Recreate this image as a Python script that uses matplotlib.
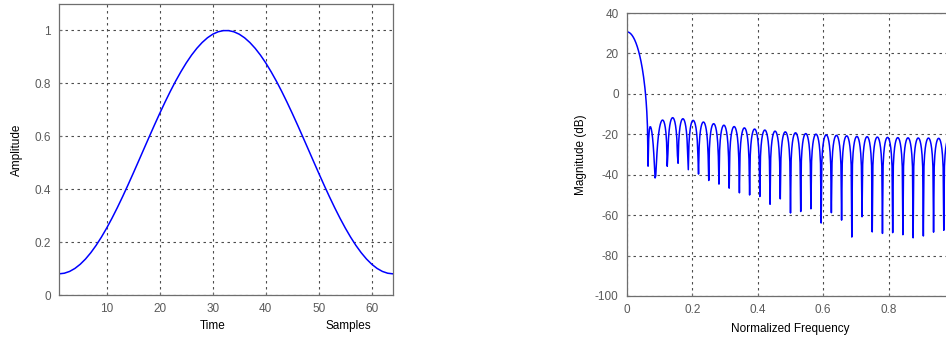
import numpy as np
import matplotlib
matplotlib.use("Agg")
import matplotlib.pyplot as plt

plt.rcParams['font.family'] = ['Liberation Sans', 'DejaVu Sans']
plt.rcParams['axes.unicode_minus'] = False

# 64-point window samples (first half, symmetric)
half_window = [0.0800, 0.0823, 0.0891, 0.1004, 0.1161, 0.1360, 0.1599, 0.1876,
               0.2188, 0.2532, 0.2904, 0.3301, 0.3719, 0.4154, 0.4601, 0.5056,
               0.5515, 0.5972, 0.6424, 0.6865, 0.7292, 0.7700, 0.8085, 0.8442,
               0.8772, 0.9067, 0.9325, 0.9544, 0.9723, 0.9858, 0.9949, 0.9994]
window = np.array(half_window + half_window[::-1])
samples = np.arange(1, len(window) + 1)

# magnitude response of the window, 512 frequency points (0..1 normalized)
n_freq = 512
spec = np.fft.fft(window, 2 * n_freq)[:n_freq]
mag_db = 20 * np.log10(np.abs(spec) + 1e-12)
norm_freq = np.arange(n_freq) / n_freq

W, H = 946, 342
fig = plt.figure(figsize=(W / 100, H / 100), dpi=100)

tick_col = '#5a5a5a'
spine_col = '#6e6e6e'


def style(ax):
    ax.grid(True, color='#4a4a4a', linestyle=(0, (2.2, 3.2)), linewidth=0.8)
    ax.tick_params(direction='in', length=2.5, colors=spine_col, labelcolor=tick_col,
                   labelsize=8.5, pad=6)
    for s in ax.spines.values():
        s.set_color(spine_col)
        s.set_linewidth(0.9)


# time domain
ax1 = fig.add_axes([59 / W, 47 / H, 334 / W, 291 / H])
ax1.plot(samples, window, color='blue', linewidth=1.1)
ax1.set_xlim(1, 64)
ax1.set_ylim(0, 1.1)
ax1.set_xticks([10, 20, 30, 40, 50, 60])
ax1.set_yticks([0, 0.2, 0.4, 0.6, 0.8, 1])
ax1.set_yticklabels(['0', '0.2', '0.4', '0.6', '0.8', '1'])
ax1.set_ylabel('Amplitude', fontsize=8.5, labelpad=8)
style(ax1)
fig.text(213 / W, 1 - 326 / H, 'Time', ha='center', va='center', fontsize=8.5)
fig.text(348 / W, 1 - 326 / H, 'Samples', ha='center', va='center', fontsize=8.5)

# frequency domain (right edge runs past the figure, as in the original)
ax2 = fig.add_axes([627 / W, 46 / H, 327 / W, 283 / H])
ax2.plot(norm_freq, mag_db, color='blue', linewidth=1.1)
ax2.set_xlim(0, 1)
ax2.set_ylim(-100, 40)
ax2.set_xticks([0, 0.2, 0.4, 0.6, 0.8, 1])
ax2.set_xticklabels(['0', '0.2', '0.4', '0.6', '0.8', ''])
ax2.set_yticks(np.arange(-100, 41, 20))
ax2.set_ylabel('Magnitude (dB)', fontsize=8.5, labelpad=6)
ax2.set_xlabel('Normalized Frequency', fontsize=8.5, labelpad=5)
style(ax2)

fig.savefig('out.png', dpi=100)
